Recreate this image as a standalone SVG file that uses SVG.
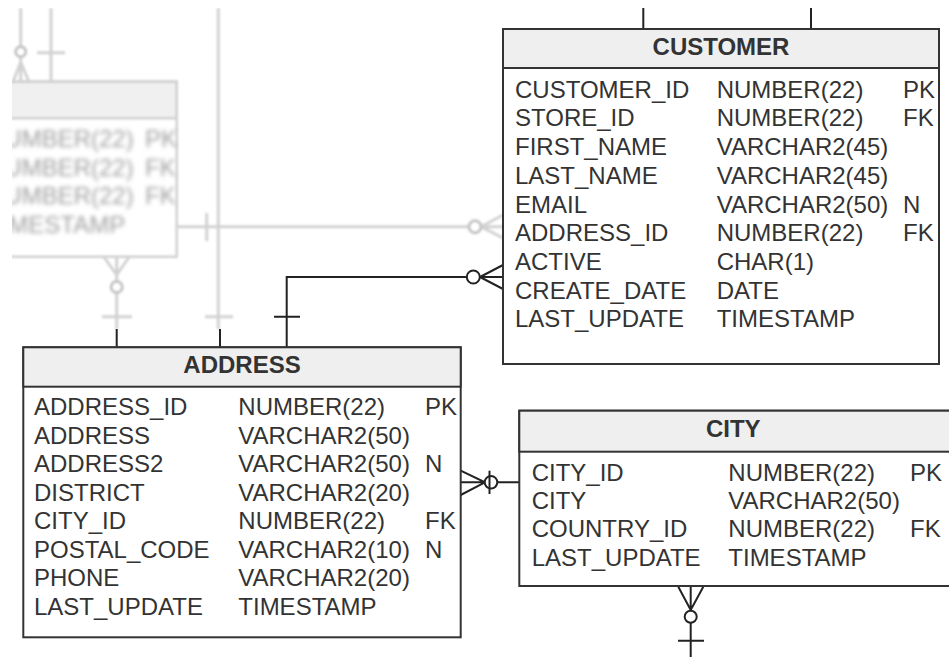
<svg xmlns="http://www.w3.org/2000/svg" width="949" height="657" viewBox="0 0 949 657">
<defs>
<style>
.box{fill:#fff;stroke:#333;stroke-width:2}
.hdr{fill:#efefef;stroke:#333;stroke-width:2}
.t{font-family:"Liberation Sans",Arial,sans-serif;font-size:24px;fill:#333}
.h{font-weight:bold;text-anchor:middle}
.ln{stroke:#222;stroke-width:2;fill:none}
.cir{stroke:#222;stroke-width:2;fill:#fff}
.fbox{fill:#fff;stroke:#cfcfcf;stroke-width:2.5}
.fhdr{fill:#f0f0f0;stroke:#cfcfcf;stroke-width:2.5}
.fln{stroke:#d2d2d2;stroke-width:3;fill:none}
.fcir{stroke:#c4c4c4;stroke-width:3;fill:#fff}
.ft{font-family:"Liberation Sans",Arial,sans-serif;font-size:24px;fill:#a0a0a0}
</style>
<filter id="blur" x="-10%" y="-10%" width="120%" height="120%"><feGaussianBlur stdDeviation="1.3"/></filter>
<filter id="blur2" x="-10%" y="-20%" width="120%" height="140%"><feGaussianBlur stdDeviation="2"/></filter>
<clipPath id="clipL"><rect x="12" y="8" width="937" height="649"/></clipPath>
</defs>

<g id="faded" clip-path="url(#clipL)">
<g id="store-table" filter="url(#blur)">
<rect class="fbox" x="-100" y="81.7" width="276.7" height="175"/>
<rect class="fhdr" x="-100" y="81.7" width="276.7" height="36.6"/>
</g>
<g id="store-rows" filter="url(#blur2)">
<text class="ft" x="-13" y="147">NUMBER(22)</text><text class="ft" x="145" y="147">PK</text>
<text class="ft" x="-13" y="175.7">NUMBER(22)</text><text class="ft" x="145" y="175.7">FK</text>
<text class="ft" x="-13" y="204.4">NUMBER(22)</text><text class="ft" x="145" y="204.4">FK</text>
<text class="ft" x="-13" y="233">TIMESTAMP</text>
</g>
<g id="faded-connectors" filter="url(#blur)">
<path class="fln" d="M20.7,8V82M20.7,62L13,82M20.7,62L29,82"/>
<circle class="fcir" cx="20.7" cy="51.7" r="5"/>
<path class="fln" d="M51,8V82M37,52.7H65"/>
<path class="fln" d="M116.7,257V329M116.7,275L104,257M116.7,275L129,257M102,316.7H132"/>
<circle class="fcir" cx="116.7" cy="287" r="5.5"/>
<path class="fln" d="M218.3,8V329M205,316.7H233"/>
<path class="fln" d="M176.7,226.7H469M206.7,213V241M481,226.7L503,215M481,226.7H503M481,226.7L503,238"/>
<circle class="fcir" cx="475" cy="226.7" r="6"/>
</g>
</g>

<g id="connectors">
<path class="ln" d="M643.3,8V29M811,8V29"/>
<path class="ln" d="M116.7,329V347M220,329V347"/>
<path class="ln" d="M286.7,347V277H466.8M274,316.7H300"/>
<path class="ln" d="M480,277L503,265M480,277H503M480,277L503,289"/>
<circle class="cir" cx="473.3" cy="277" r="6.5"/>
<path class="ln" d="M460.7,482.3H519.3M460.7,470.7L485,482.3L460.7,495"/>
<circle class="cir" cx="491" cy="482.3" r="6.3"/>
<path class="ln" d="M489.5,470.7V494"/>
<path class="ln" d="M690.7,586.7V610.5M678.3,586.7L690.7,610M703.3,586.7L690.7,610M690.7,623V657M678,640.7H704"/>
<circle class="cir" cx="690.7" cy="616.7" r="6"/>
</g>

<g id="customer">
<rect class="box" x="503" y="29" width="436" height="335"/>
<rect class="hdr" x="503" y="29" width="436" height="39"/>
<text class="t h" x="721" y="55">CUSTOMER</text>
<text class="t" x="515" y="97.7">CUSTOMER_ID</text><text class="t" x="716.7" y="97.7">NUMBER(22)</text><text class="t" x="903" y="97.7">PK</text>
<text class="t" x="515" y="126.4">STORE_ID</text><text class="t" x="716.7" y="126.4">NUMBER(22)</text><text class="t" x="903" y="126.4">FK</text>
<text class="t" x="515" y="155.1">FIRST_NAME</text><text class="t" x="716.7" y="155.1">VARCHAR2(45)</text>
<text class="t" x="515" y="183.8">LAST_NAME</text><text class="t" x="716.7" y="183.8">VARCHAR2(45)</text>
<text class="t" x="515" y="212.5">EMAIL</text><text class="t" x="716.7" y="212.5">VARCHAR2(50)</text><text class="t" x="903" y="212.5">N</text>
<text class="t" x="515" y="241.2">ADDRESS_ID</text><text class="t" x="716.7" y="241.2">NUMBER(22)</text><text class="t" x="903" y="241.2">FK</text>
<text class="t" x="515" y="269.9">ACTIVE</text><text class="t" x="716.7" y="269.9">CHAR(1)</text>
<text class="t" x="515" y="298.6">CREATE_DATE</text><text class="t" x="716.7" y="298.6">DATE</text>
<text class="t" x="515" y="327.3">LAST_UPDATE</text><text class="t" x="716.7" y="327.3">TIMESTAMP</text>
</g>

<g id="address">
<rect class="box" x="23.3" y="347.3" width="437.4" height="290"/>
<rect class="hdr" x="23.3" y="347.3" width="437.4" height="39.4"/>
<text class="t h" x="242" y="373.3">ADDRESS</text>
<text class="t" x="34" y="415">ADDRESS_ID</text><text class="t" x="238.3" y="415">NUMBER(22)</text><text class="t" x="425" y="415">PK</text>
<text class="t" x="34" y="443.6">ADDRESS</text><text class="t" x="238.3" y="443.6">VARCHAR2(50)</text>
<text class="t" x="34" y="472.1">ADDRESS2</text><text class="t" x="238.3" y="472.1">VARCHAR2(50)</text><text class="t" x="425" y="472.1">N</text>
<text class="t" x="34" y="500.7">DISTRICT</text><text class="t" x="238.3" y="500.7">VARCHAR2(20)</text>
<text class="t" x="34" y="529.3">CITY_ID</text><text class="t" x="238.3" y="529.3">NUMBER(22)</text><text class="t" x="425" y="529.3">FK</text>
<text class="t" x="34" y="557.9">POSTAL_CODE</text><text class="t" x="238.3" y="557.9">VARCHAR2(10)</text><text class="t" x="425" y="557.9">N</text>
<text class="t" x="34" y="586.4">PHONE</text><text class="t" x="238.3" y="586.4">VARCHAR2(20)</text>
<text class="t" x="34" y="615">LAST_UPDATE</text><text class="t" x="238.3" y="615">TIMESTAMP</text>
</g>

<g id="city">
<rect class="box" x="519.3" y="410.7" width="431" height="175.3"/>
<rect class="hdr" x="519.3" y="410.7" width="431" height="41"/>
<text class="t h" x="733.3" y="437.3">CITY</text>
<text class="t" x="531.7" y="480.7">CITY_ID</text><text class="t" x="728.3" y="480.7">NUMBER(22)</text><text class="t" x="910" y="480.7">PK</text>
<text class="t" x="531.7" y="509">CITY</text><text class="t" x="728.3" y="509">VARCHAR2(50)</text>
<text class="t" x="531.7" y="537.3">COUNTRY_ID</text><text class="t" x="728.3" y="537.3">NUMBER(22)</text><text class="t" x="910" y="537.3">FK</text>
<text class="t" x="531.7" y="565.6">LAST_UPDATE</text><text class="t" x="728.3" y="565.6">TIMESTAMP</text>
</g>
</svg>
